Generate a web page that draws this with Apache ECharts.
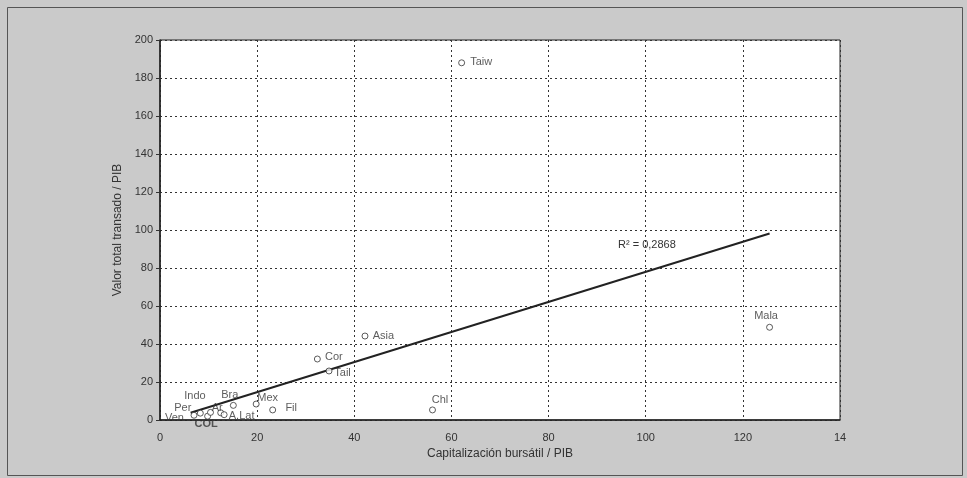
<!DOCTYPE html>
<html>
<head>
<meta charset="utf-8">
<script src="https://cdn.jsdelivr.net/npm/echarts@6/dist/echarts.min.js"></script>
<style>
html,body{margin:0;padding:0;background:#cacaca;}
#c{width:967px;height:478px;}
</style>
</head>
<body>
<div id="c"></div>
<script>
// ---- data ----
const countries = ['Ven','Per','COL','Indo','Ar','A.Lat','Bra','Mex','Fil','Cor','Tail','Asia','Chl','Taiw','Mala'];
const capitalizacion = [7.0, 8.3, 9.8, 10.4, 12.5, 13.2, 15.1, 19.8, 23.2, 32.4, 34.8, 42.2, 56.1, 62.1, 125.5];
const valorTransado = [2.5, 3.6, 2.0, 4.0, 3.8, 2.8, 7.7, 8.4, 5.3, 32.1, 25.8, 44.2, 5.3, 188.0, 48.8];
const trendIntercept = -1.2;
const trendSlope = 0.792;
const r2Text = 'R\u00B2 = 0,2868';
const r2LabelAt = [94.3, 92];
const xTicks = [0, 20, 40, 60, 80, 100, 120, 140];
const xTickLabels = ['0', '20', '40', '60', '80', '100', '120', '14'];
const yTicks = [0, 20, 40, 60, 80, 100, 120, 140, 160, 180, 200];

// ---- label placement (style only: pixel offset of label centre from its point) ----
const labelOffset = {
  'Ven':   [-19, 2],
  'Per':   [-17, -6],
  'COL':   [-1, 7],
  'Indo':  [-15, -17],
  'Ar':    [-3, -6],
  'A.Lat': [18, 0],
  'Bra':   [-3, -11],
  'Mex':   [12, -7],
  'Fil':   [19, -3],
  'Cor':   [17, -3],
  'Tail':  [14, 1],
  'Asia':  [19, -1],
  'Chl':   [8, -11],
  'Taiw':  [20, -2],
  'Mala':  [-3, -12]
};
const SYM = 6;

const points = countries.map((n, i) => {
  const o = labelOffset[n] || [0, 0];
  return {
    name: n,
    value: [capitalizacion[i], valorTransado[i]],
    label: {
      show: true, formatter: n,
      position: [o[0] + SYM / 2, o[1] + SYM / 2 + 1.5],
      align: 'center', verticalAlign: 'middle',
      color: '#333',
      fontWeight: n === 'COL' ? 'bold' : 'normal'
    }
  };
});

const xMinData = Math.min(...capitalizacion) - 0.7;
const xMaxData = Math.max(...capitalizacion);
const trendData = [
  [xMinData, trendIntercept + trendSlope * xMinData],
  [xMaxData, trendIntercept + trendSlope * xMaxData]
];

const chart = echarts.init(document.getElementById('c'));
const fontFam = 'Liberation Sans, Arial, sans-serif';
chart.setOption({
  backgroundColor: '#cacaca',
  animation: false,
  textStyle: {fontFamily: fontFam},
  grid: {left: 160, right: 127, top: 40, bottom: 58, show: true, backgroundColor: '#ffffff', borderColor: '#222', borderWidth: 1},
  xAxis: {
    type: 'value', min: 0, max: 140, interval: 20,
    name: 'Capitalización bursátil / PIB', nameLocation: 'middle', nameGap: 27,
    nameTextStyle: {fontSize: 12, color: '#333', fontFamily: fontFam},
    axisLine: {show: true, lineStyle: {color: '#222', width: 1.5}},
    axisTick: {show: false},
    axisLabel: {fontSize: 11, color: '#333', margin: 12, formatter: v => xTickLabels[xTicks.indexOf(v)] ?? String(v)},
    splitLine: {show: true, lineStyle: {color: '#333', type: [2, 3], width: 1}}
  },
  yAxis: {
    type: 'value', min: 0, max: 200, interval: 20,
    name: 'Valor total transado / PIB', nameLocation: 'middle', nameGap: 31,
    nameTextStyle: {fontSize: 12, color: '#333', fontFamily: fontFam},
    axisLine: {show: true, lineStyle: {color: '#222', width: 1.5}},
    axisTick: {show: true, inside: false, length: 4, lineStyle: {color: '#333'}},
    axisLabel: {fontSize: 11, color: '#333', margin: 7, formatter: v => yTicks.includes(v) ? String(v) : ''},
    splitLine: {show: true, lineStyle: {color: '#333', type: [2, 3], width: 1}}
  },
  series: [
    {
      type: 'line',
      data: trendData,
      showSymbol: false,
      symbol: 'none',
      lineStyle: {color: '#222', width: 2},
      silent: true,
      z: 3
    },
    {
      type: 'scatter',
      data: points,
      symbol: 'circle',
      symbolSize: SYM,
      itemStyle: {color: '#ffffff', borderColor: '#333', borderWidth: 1},
      label: {show: true, fontSize: 11, color: '#333', fontFamily: fontFam},
      labelLayout: {hideOverlap: false},
      z: 4
    }
  ]
});

const pos = chart.convertToPixel({gridIndex: 0}, r2LabelAt);
chart.setOption({
  graphic: [
    {
      type: 'rect', left: 5, top: 5, silent: true, z: -1,
      shape: {width: 955, height: 468},
      style: {fill: 'none', stroke: '#555', lineWidth: 1}
    },
    {
      type: 'text', x: pos[0], y: pos[1], silent: true, z: 10,
      style: {text: r2Text, fill: '#333', font: '11px ' + fontFam, textVerticalAlign: 'middle'}
    }
  ]
});
</script>
</body>
</html>
